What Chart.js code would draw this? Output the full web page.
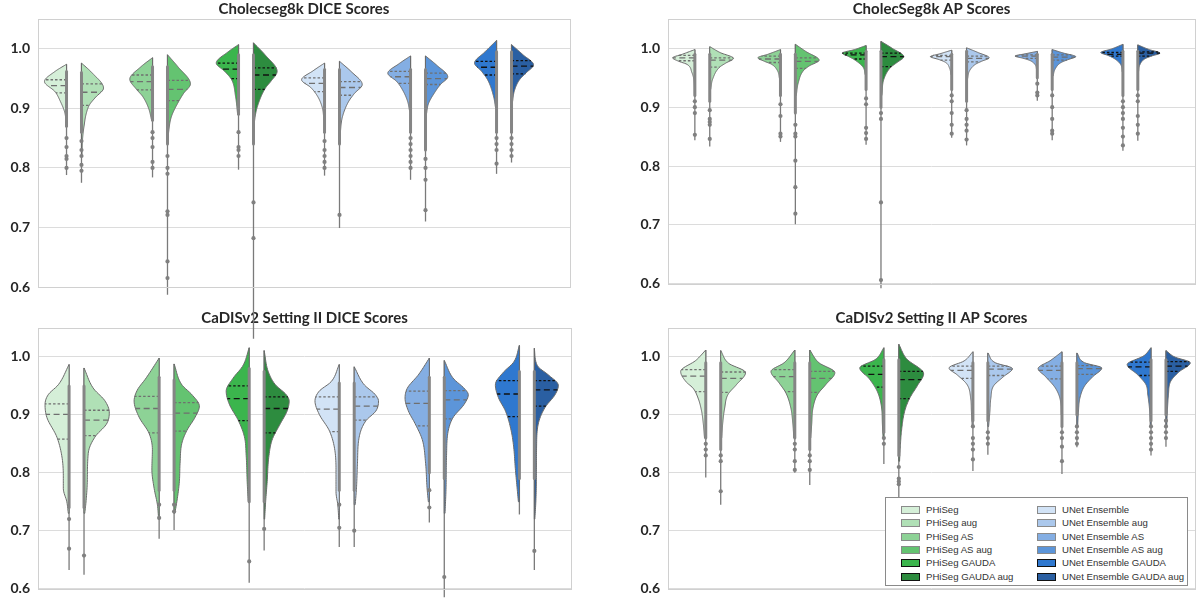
<!DOCTYPE html>
<html>
<head>
<meta charset="utf-8">
<script src="https://cdn.jsdelivr.net/npm/chart.js@4.4.0/dist/chart.umd.min.js"></script>
<style>
  html, body { margin: 0; padding: 0; background: #fff; width: 1199px; height: 605px; overflow: hidden; }
  .panel { position: absolute; }
  #legend { position: absolute; left: 885px; top: 497px; width: 301px; height: 87px; border: 1px solid #8a8a8a; background: #fff;
            font-family: "Liberation Sans", Arial, sans-serif; font-size: 9.6px; color: #333; }
  .item { position: absolute; height: 13px; line-height: 13px; white-space: nowrap; }
  .item span.sw { position: absolute; left: 0; top: 3px; width: 17px; height: 6px; border: 1px solid #888; }
  .item span.tx { position: absolute; left: 25px; top: 0; }
</style>
</head>
<body>
<div class="panel" style="left:0;top:300px;width:600px;height:305px"><canvas id="cadisDice" width="600" height="305"></canvas></div>
<div class="panel" style="left:600px;top:300px;width:599px;height:305px"><canvas id="cadisAp" width="599" height="305"></canvas></div>
<div class="panel" style="left:0;top:0;width:600px;height:350px"><canvas id="cholecDice" width="600" height="350"></canvas></div>
<div class="panel" style="left:600px;top:0;width:599px;height:300px"><canvas id="cholecAp" width="599" height="300"></canvas></div>
<div id="legend"></div>
<script>
const methods = ['PHiSeg', 'PHiSeg aug', 'PHiSeg AS', 'PHiSeg AS aug', 'PHiSeg GAUDA', 'PHiSeg GAUDA aug',
  'UNet Ensemble', 'UNet Ensemble aug', 'UNet Ensemble AS', 'UNet Ensemble AS aug', 'UNet Ensemble GAUDA', 'UNet Ensemble GAUDA aug'];
const fills = ['#d5efd8', '#b0e0b6', '#8dd296', '#64c371', '#3bb54d', '#2d8c3f',
  '#d2e3f6', '#abc8ec', '#84aee3', '#5c95d9', '#2f78cf', '#2a5fa2'];
const yTicks = [0.6, 0.7, 0.8, 0.9, 1.0];

// violin outlines: [score, relative half width] from top tip downwards
const cholecDiceShape = [
  [[.974,0],[.962,.5],[.945,.96],[.928,.5],[.911,.26],[.892,.07],[.87,.02]],
  [[.976,0],[.96,.45],[.934,.96],[.918,.6],[.906,.35],[.89,.2],[.875,.13],[.85,.05],[.82,.02]],
  [[.985,0],[.97,.5],[.949,.99],[.932,.7],[.92,.43],[.9,.17],[.88,.04]],
  [[.99,0],[.97,.45],[.941,1],[.925,.7],[.911,.48],[.886,.17],[.86,.05],[.84,.02]],
  [[1.007,0],[.995,.45],[.976,.97],[.962,.6],[.948,.3],[.92,.13],[.89,.04]],
  [[1.01,0],[.99,.5],[.962,1.03],[.945,.75],[.934,.52],[.903,.17],[.88,.05],[.86,.02]],
  [[.976,0],[.963,.5],[.948,1],[.935,.6],[.92,.3],[.9,.09],[.88,.03]],
  [[.979,0],[.962,.5],[.94,.99],[.925,.65],[.911,.39],[.886,.13],[.86,.04],[.84,.02]],
  [[.988,0],[.975,.5],[.959,.99],[.945,.6],[.931,.35],[.912,.13],[.895,.04]],
  [[.988,0],[.972,.5],[.953,.97],[.94,.65],[.926,.39],[.908,.13],[.89,.04]],
  [[1.014,0],[.995,.5],[.976,.96],[.962,.65],[.948,.39],[.92,.13],[.9,.04]],
  [[1.007,0],[.99,.5],[.973,.96],[.96,.65],[.948,.35],[.93,.13],[.91,.04]]
];
const cholecDiceQ1 = [.926, .905, .931, .913, .95, .932, .928, .922, .942, .94, .956, .958];
const cholecDiceMedian = [.938, .927, .945, .932, .966, .956, .942, .935, .953, .95, .969, .971];
const cholecDiceQ3 = [.948, .941, .956, .947, .976, .968, .951, .945, .962, .959, .979, .98];
const cholecDiceMin = [.788, .775, .784, .587, .797, .513, .787, .699, .78, .71, .79, .809];
const cholecDiceStripTop = [.962, .96, .97, .97, .99, .99, .965, .965, .965, .965, .995, .995];
const cholecDiceStripBottom = [.87, .86, .88, .84, .89, .84, .86, .84, .86, .83, .86, .86];
const cholecDicePoints = [[.85,.835,.82,.815,.80],[.845,.83,.82,.805,.795],[.86,.85,.835,.81,.80],
  [.82,.80,.79,.727,.721,.643,.615],[.86,.835,.83,.82],[.742,.682],[.845,.83,.82,.81,.80],[.721],
  [.85,.84,.83,.82,.81,.80],[.815,.80,.78,.729],[.85,.84,.83,.807],[.85,.84,.83,.82]];

const cholecApShape = [
  [[.998,0],[.99,.55],[.984,.97],[.978,.7],[.973,.35],[.959,.13],[.945,.04],[.92,.02]],
  [[1.003,0],[.993,.45],[.983,1.04],[.975,.7],[.968,.43],[.948,.13],[.93,.04]],
  [[.998,0],[.99,.55],[.984,.99],[.978,.7],[.973,.39],[.962,.13],[.948,.04]],
  [[1.007,0],[.995,.45],[.98,1.04],[.97,.6],[.962,.35],[.942,.13],[.92,.04]],
  [[1.005,0],[.998,.5],[.992,1.04],[.986,.75],[.98,.48],[.968,.13],[.955,.04]],
  [[1.012,0],[1.0,.5],[.986,1.0],[.976,.7],[.968,.43],[.948,.13],[.92,.04]],
  [[.997,0],[.991,.5],[.986,.93],[.981,.55],[.976,.26],[.966,.09],[.955,.03]],
  [[1.001,0],[.993,.5],[.984,.99],[.978,.65],[.973,.39],[.962,.13],[.948,.04]],
  [[.995,0],[.991,.5],[.987,.97],[.983,.6],[.979,.3],[.972,.09],[.963,.03]],
  [[.998,0],[.992,.5],[.986,1.03],[.981,.7],[.976,.39],[.965,.13],[.953,.04]],
  [[1.007,0],[.999,.5],[.993,.97],[.988,.65],[.982,.35],[.972,.09],[.96,.03]],
  [[1.006,0],[.998,.5],[.992,.97],[.987,.6],[.982,.3],[.972,.09],[.96,.03]]
];
const cholecApQ1 = [.979, .968, .976, .966, .982, .969, .98, .977, .983, .98, .987, .987];
const cholecApMedian = [.984, .98, .982, .978, .989, .986, .986, .983, .987, .985, .99, .992];
const cholecApQ3 = [.988, .984, .987, .984, .992, .992, .988, .987, .989, .989, .993, .994];
const cholecApMin = [.844, .833, .841, .701, .836, .592, .848, .835, .911, .844, .826, .843];
const cholecApStripTop = [.99, .99, .99, .99, .995, .995, .99, .995, .99, .99, .995, .995];
const cholecApStripBottom = [.92, .91, .92, .89, .93, .90, .93, .91, .95, .93, .92, .93];
const cholecApPoints = [[.91,.90,.89,.853],[.895,.88,.875,.87,.846],[.905,.885,.855,.85],
  [.87,.855,.85,.809,.764,.719],[.915,.905,.865,.856,.846],[.89,.88,.738,.606],[.92,.91,.89,.87,.855],
  [.895,.88,.87,.86,.845],[.94,.925,.92],[.92,.90,.88,.86,.855],[.91,.90,.89,.88,.865,.85,.835],
  [.92,.91,.885,.87,.855]];

const cadisDiceShape = [
  [[.987,0],[.952,.43],[.935,.83],[.918,.96],[.896,.89],[.862,.49],[.829,.29],[.795,.23],[.773,.23],[.75,.09],[.73,.03]],
  [[.981,0],[.946,.37],[.924,.84],[.904,1.01],[.885,.91],[.862,.44],[.834,.17],[.784,.13],[.75,.08],[.73,.03]],
  [[.998,0],[.963,.53],[.943,.87],[.924,1.0],[.896,.8],[.868,.4],[.84,.27],[.806,.29],[.773,.2],[.745,.07],[.72,.02]],
  [[.988,0],[.952,.31],[.935,.71],[.915,1.01],[.896,.84],[.873,.51],[.851,.31],[.817,.24],[.784,.21],[.75,.11],[.73,.03]],
  [[1.016,0],[.985,.25],[.963,.65],[.941,.92],[.918,.79],[.89,.43],[.862,.19],[.829,.12],[.784,.08],[.75,.04]],
  [[1.011,0],[.974,.17],[.952,.45],[.935,.88],[.924,1.0],[.907,.92],[.885,.65],[.857,.32],[.829,.19],[.784,.12],[.75,.06],[.72,.02]],
  [[.987,0],[.957,.33],[.941,.8],[.924,.97],[.901,.8],[.873,.4],[.845,.2],[.806,.13],[.767,.13],[.745,.06],[.72,.02]],
  [[.983,0],[.952,.4],[.935,.84],[.924,.97],[.907,.87],[.89,.47],[.862,.2],[.817,.13],[.773,.09],[.745,.04]],
  [[.998,0],[.969,.44],[.946,.88],[.929,.97],[.907,.84],[.885,.57],[.857,.28],[.817,.15],[.773,.09],[.75,.04]],
  [[.994,0],[.963,.36],[.946,.79],[.935,.96],[.918,.79],[.896,.36],[.873,.16],[.829,.09],[.773,.07],[.73,.03]],
  [[1.02,0],[.991,.23],[.974,.63],[.952,.96],[.929,.83],[.907,.56],[.873,.33],[.845,.23],[.806,.16],[.773,.09],[.75,.04]],
  [[1.015,0],[.985,.12],[.969,.56],[.951,.96],[.935,.83],[.913,.43],[.885,.16],[.845,.09],[.784,.08],[.75,.06],[.72,.02]]
];
const cadisDiceQ1 = [.858, .864, .869, .872, .89, .869, .871, .891, .881, .893, .897, .915];
const cadisDiceMedian = [.901, .891, .911, .903, .928, .911, .91, .915, .92, .926, .936, .943];
const cadisDiceQ3 = [.919, .908, .932, .921, .95, .931, .931, .931, .941, .942, .959, .959];
const cadisDiceMin = [.632, .624, .686, .701, .61, .666, .672, .672, .714, .585, .728, .632];
const cadisDiceStripTop = [.95, .95, .965, .96, .98, .975, .955, .955, .965, .965, .975, .975];
const cadisDiceStripBottom = [.74, .74, .77, .77, .75, .75, .77, .77, .80, .79, .79, .79];
const cadisDicePoints = [[.72,.669],[.657],[.745,.722],[.745,.733],[.647],[.703],[.745,.705],[.70],[.77,.74],[.62],[],[.665]];

const cadisApShape = [
  [[1.012,0],[.994,.4],[.975,1.01],[.957,.79],[.946,.51],[.929,.31],[.907,.17],[.885,.1],[.86,.05]],
  [[1.011,0],[.989,.32],[.973,1.0],[.952,.63],[.935,.29],[.912,.16],[.885,.08],[.86,.04]],
  [[1.012,0],[.99,.43],[.975,.96],[.955,.63],[.938,.36],[.912,.16],[.885,.08],[.86,.04]],
  [[1.012,0],[.99,.37],[.973,1.01],[.952,.64],[.935,.31],[.912,.13],[.885,.08],[.86,.04]],
  [[1.016,0],[.996,.33],[.981,.97],[.963,.6],[.941,.27],[.912,.09],[.885,.06],[.86,.03]],
  [[1.022,0],[.997,.31],[.971,1.0],[.952,.77],[.929,.44],[.907,.24],[.873,.11],[.845,.06],[.82,.03]],
  [[1.009,0],[.993,.36],[.981,.96],[.969,.63],[.952,.23],[.929,.09],[.905,.06],[.88,.03]],
  [[1.007,0],[.99,.3],[.98,.99],[.966,.63],[.95,.23],[.929,.12],[.905,.08],[.88,.03]],
  [[1.009,0],[.994,.46],[.98,.96],[.966,.66],[.946,.26],[.924,.06],[.9,.03]],
  [[1.007,0],[.99,.31],[.981,1.0],[.966,.64],[.95,.31],[.929,.12],[.905,.06],[.88,.03]],
  [[1.016,0],[1.002,.29],[.987,.96],[.969,.53],[.952,.2],[.935,.13],[.91,.06],[.88,.03]],
  [[1.011,0],[1.0,.35],[.99,.98],[.974,.52],[.957,.18],[.935,.1],[.91,.06],[.88,.03]]
];
const cadisApQ1 = [.94, .939, .94, .939, .948, .928, .963, .968, .962, .97, .968, .975];
const cadisApMedian = [.967, .963, .966, .963, .97, .961, .977, .979, .977, .98, .983, .984];
const cadisApQ3 = [.978, .974, .978, .975, .984, .975, .984, .984, .984, .985, .991, .992];
const cadisApMin = [.792, .745, .8, .779, .815, .74, .803, .831, .798, .844, .83, .845];
const cadisApStripTop = [.99, .99, .99, .99, .995, .995, .99, .99, .99, .99, .995, .995];
const cadisApStripBottom = [.86, .84, .86, .84, .87, .83, .89, .89, .88, .90, .89, .90];
const cadisApPoints = [[.85,.84,.83],[.83,.82,.768],[.85,.84,.82,.805],[.83,.82,.805],[.86,.85],
  [.81,.79,.785,.78],[.88,.86,.85,.84,.823],[.87,.86,.85],[.87,.86,.845,.82],[.88,.87,.86,.85],
  [.88,.87,.86,.85,.84],[.89,.88,.87,.86]];

// monotone cubic used only to draw the smooth outline between the read-off knots
function monotone(xs, ys) {
  const n = xs.length, d = [], m = [];
  for (let i = 0; i < n - 1; i++) d.push((ys[i + 1] - ys[i]) / (xs[i + 1] - xs[i]));
  m[0] = d[0]; m[n - 1] = d[n - 2];
  for (let i = 1; i < n - 1; i++) m[i] = d[i - 1] * d[i] <= 0 ? 0 : (d[i - 1] + d[i]) / 2;
  for (let i = 0; i < n - 1; i++) {
    if (d[i] === 0) { m[i] = 0; m[i + 1] = 0; continue; }
    const a = m[i] / d[i], b = m[i + 1] / d[i], s = a * a + b * b;
    if (s > 9) { const t = 3 / Math.sqrt(s); m[i] = t * a * d[i]; m[i + 1] = t * b * d[i]; }
  }
  return v => {
    if (v <= xs[0]) return ys[0];
    if (v >= xs[n - 1]) return ys[n - 1];
    let i = 0;
    while (v > xs[i + 1]) i++;
    const h = xs[i + 1] - xs[i], t = (v - xs[i]) / h, t2 = t * t, t3 = t2 * t;
    return (2 * t3 - 3 * t2 + 1) * ys[i] + (t3 - 2 * t2 + t) * h * m[i] + (-2 * t3 + 3 * t2) * ys[i + 1] + (t3 - t2) * h * m[i + 1];
  };
}

function flat_pos(k, gap) {
  return Math.floor(k / 2) + (k % 2 ? gap : -gap);
}

const violinPlugin = {
  id: 'violins',
  beforeDatasetsDraw(chart, args, opts) {
    const p = opts.panel;
    if (!p) return;
    const ctx = chart.ctx, x = chart.scales.x, y = chart.scales.y;
    const dark = [4, 5, 10, 11];
    ctx.save();
    for (let k = 0; k < 12; k++) {
      const dir = k % 2 ? 1 : -1;
      const flat = flat_pos(k, p.gap);
      const knots = p.shape[k];
      const wAt = monotone(knots.map(a => a[0]).reverse(), knots.map(a => a[1]).reverse());
      const top = knots[0][0], bot = knots[knots.length - 1][0];
      const fx = x.getPixelForValue(flat);
      const px = w => x.getPixelForValue(flat + dir * Math.max(0, w) * p.half);
      // tail line
      ctx.setLineDash([]);
      ctx.strokeStyle = '#7a7a7a'; ctx.lineWidth = 1.3;
      ctx.beginPath(); ctx.moveTo(fx, y.getPixelForValue(top)); ctx.lineTo(fx, y.getPixelForValue(p.lo[k])); ctx.stroke();
      // body
      ctx.beginPath();
      ctx.moveTo(fx, y.getPixelForValue(top));
      const steps = 90;
      for (let s = 0; s <= steps; s++) {
        const v = top - (top - bot) * s / steps;
        ctx.lineTo(px(wAt(v)), y.getPixelForValue(v));
      }
      ctx.lineTo(fx, y.getPixelForValue(bot));
      ctx.closePath();
      ctx.fillStyle = fills[k]; ctx.fill();
      ctx.strokeStyle = '#6a6a6a'; ctx.lineWidth = 1; ctx.stroke();
      // quartile lines
      const qc = dark.includes(k) ? '#111' : '#6f6f6f';
      [[p.q1[k], [2.5, 2]], [p.med[k], [6, 3.5]], [p.q3[k], [2.5, 2]]].forEach(([q, dash]) => {
        ctx.setLineDash(dash);
        ctx.strokeStyle = qc; ctx.lineWidth = 1.3;
        const yy = y.getPixelForValue(q);
        ctx.beginPath(); ctx.moveTo(fx, yy); ctx.lineTo(px(wAt(q)), yy); ctx.stroke();
      });
      ctx.setLineDash([]);
      // dense strip of observations
      ctx.strokeStyle = '#858585'; ctx.lineWidth = 3; ctx.lineCap = 'round';
      ctx.beginPath();
      ctx.moveTo(fx, y.getPixelForValue(p.stripTop[k]));
      ctx.lineTo(fx, y.getPixelForValue(p.stripBottom[k]));
      ctx.stroke();
      ctx.lineCap = 'butt';
    }
    ctx.restore();
  },
  afterDraw(chart, args, opts) {
    const {left, top, right, bottom} = chart.chartArea;
    const ctx = chart.ctx;
    ctx.save();
    ctx.strokeStyle = '#d0d0d0'; ctx.lineWidth = 1;
    ctx.strokeRect(Math.round(left) + 0.5, Math.round(top) + 0.5, Math.round(right - left), Math.round(bottom - top));
    ctx.restore();
  }
};

function make_panel(id, title, data, lay) {
  const datasets = methods.map((m, k) => ({
    label: m,
    data: data.points[k].map(v => ({x: flat_pos(k, lay.gap), y: v})),
    pointRadius: 2.1,
    pointBackgroundColor: '#808080',
    pointBorderWidth: 0,
    clip: false
  }));
  const panel = Object.assign({}, data, {gap: lay.gap, half: lay.half});
  return new Chart(document.getElementById(id), {
    type: 'scatter',
    data: {datasets: datasets},
    options: {
      responsive: false,
      animation: false,
      layout: {padding: {left: 0, top: 0, right: lay.padRight, bottom: lay.padBottom}},
      plugins: {
        legend: {display: false},
        tooltip: {enabled: false},
        title: {
          display: true, text: title, fullSize: false, color: '#262626',
          font: {family: 'Lato', size: 15, weight: 'bold', lineHeight: 1.2},
          padding: {top: lay.titleTop, bottom: 1}
        },
        violins: {panel: panel}
      },
      scales: {
        x: {type: 'linear', display: false, min: lay.xMin, max: lay.xMax},
        y: {
          type: 'linear', min: 0.6, max: 1.05,
          afterBuildTicks: s => { s.ticks = yTicks.map(v => ({value: v})); },
          afterFit: s => { s.width = lay.axisWidth; },
          ticks: {
            padding: 8, color: '#262626',
            font: {family: 'Lato', size: 14, weight: 'bold'},
            callback: v => Number(v).toFixed(1)
          },
          grid: {color: '#dcdcdc', lineWidth: 1, drawTicks: false},
          border: {display: false}
        }
      }
    },
    plugins: [violinPlugin]
  });
}

make_panel('cadisDice', 'CaDISv2 Setting II DICE Scores',
  {shape: cadisDiceShape, q1: cadisDiceQ1, med: cadisDiceMedian, q3: cadisDiceQ3, lo: cadisDiceMin,
   stripTop: cadisDiceStripTop, stripBottom: cadisDiceStripBottom, points: cadisDicePoints},
  {xMin: -0.428, xMax: 5.49, gap: 0.083, half: 0.278, axisWidth: 38, padRight: 29, padBottom: 9, titleTop: 9});
make_panel('cadisAp', 'CaDISv2 Setting II AP Scores',
  {shape: cadisApShape, q1: cadisApQ1, med: cadisApMedian, q3: cadisApQ3, lo: cadisApMin,
   stripTop: cadisApStripTop, stripBottom: cadisApStripBottom, points: cadisApPoints},
  {xMin: -0.508, xMax: 5.41, gap: 0.084, half: 0.279, axisWidth: 68, padRight: 1, padBottom: 9, titleTop: 9});
make_panel('cholecDice', 'Cholecseg8k DICE Scores',
  {shape: cholecDiceShape, q1: cholecDiceQ1, med: cholecDiceMedian, q3: cholecDiceQ3, lo: cholecDiceMin,
   stripTop: cholecDiceStripTop, stripBottom: cholecDiceStripBottom, points: cholecDicePoints},
  {xMin: -0.4186, xMax: 5.767, gap: 0.087, half: 0.267, axisWidth: 38, padRight: 30, padBottom: 63, titleTop: 0});
make_panel('cholecAp', 'CholecSeg8k AP Scores',
  {shape: cholecApShape, q1: cholecApQ1, med: cholecApMedian, q3: cholecApQ3, lo: cholecApMin,
   stripTop: cholecApStripTop, stripBottom: cholecApStripBottom, points: cholecApPoints},
  {xMin: -0.4007, xMax: 5.755, gap: 0.087, half: 0.267, axisWidth: 68, padRight: 1, padBottom: 13, titleTop: 0});

// legend, two columns of six
const legend = document.getElementById('legend');
methods.forEach((m, k) => {
  const col = Math.floor(k / 6), row = k % 6;
  const it = document.createElement('div');
  it.className = 'item';
  it.style.left = (15 + col * 136) + 'px';
  it.style.top = (5 + row * 13.3) + 'px';
  const dark = [4, 5, 10, 11].includes(k);
  it.innerHTML = '<span class="sw" style="background:' + fills[k] + ';border-color:' + (dark ? '#111' : '#8a8a8a') + '"></span><span class="tx">' + m + '</span>';
  legend.appendChild(it);
});
</script>
</body>
</html>
